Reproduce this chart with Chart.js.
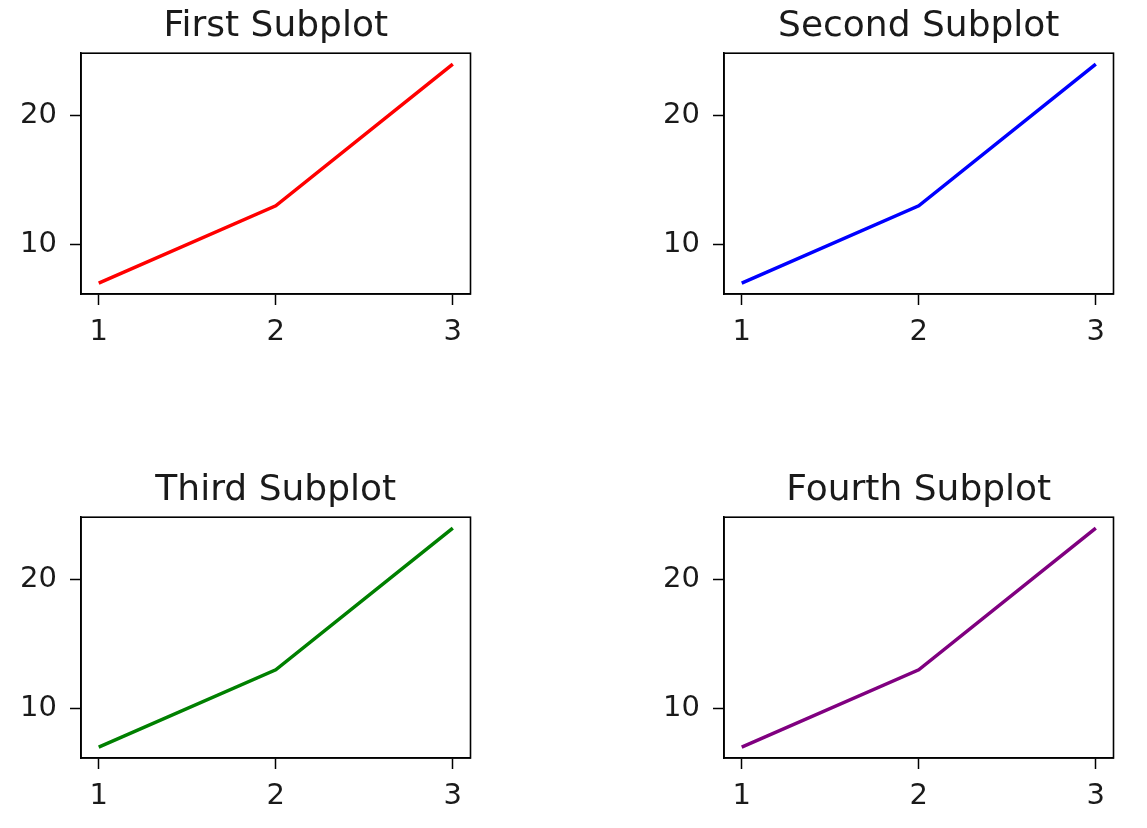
<!DOCTYPE html>
<html>
<head>
<meta charset="utf-8">
<script src="https://cdn.jsdelivr.net/npm/chart.js@4.4.0/dist/chart.umd.min.js"></script>
<style>
  html, body { margin: 0; padding: 0; background: #ffffff; }
  body { width: 1147px; height: 828px; position: relative; overflow: hidden; }
  .cell { position: absolute; width: 552px; height: 350px; }
  .cell canvas { display: block; }
</style>
</head>
<body>
<div class="cell" id="c1" style="left:0px; top:0px;"><canvas id="p1"></canvas></div>
<div class="cell" id="c2" style="left:643px; top:0px;"><canvas id="p2"></canvas></div>
<div class="cell" id="c3" style="left:0px; top:464px;"><canvas id="p3"></canvas></div>
<div class="cell" id="c4" style="left:643px; top:464px;"><canvas id="p4"></canvas></div>
<script>
// ---- data ----
const xValues = [1, 2, 3];
const yValues = [7, 13, 24];
const titles = ["First Subplot", "Second Subplot", "Third Subplot", "Fourth Subplot"];
const lineColors = ["#ff0000", "#0000ff", "#008000", "#800080"];
const xTickValues = [1, 2, 3];
const yTickValues = [10, 20];

const FONT = "'DejaVu Sans', sans-serif";
const TICK_SIZE = 29;
const TITLE_SIZE = 36;

const frame = {
  id: 'frame',
  afterDraw(chart) {
    const a = chart.chartArea, ctx = chart.ctx;
    ctx.save();
    ctx.strokeStyle = '#000';
    ctx.lineWidth = 1.6;
    ctx.strokeRect(a.left, a.top, a.right - a.left, a.bottom - a.top);
    ctx.restore();
  }
};

const yMin = 7 - 0.05 * (24 - 7), yMax = 24 + 0.05 * (24 - 7);
const xMin = 1 - 0.05 * (3 - 1), xMax = 3 + 0.05 * (3 - 1);

function makeChart(id, idx) {
  const points = xValues.map((x, i) => ({ x: x, y: yValues[i] }));
  new Chart(document.getElementById(id), {
    type: 'line',
    data: {
      datasets: [{
        data: points,
        borderColor: lineColors[idx],
        backgroundColor: lineColors[idx],
        borderWidth: 3.5,
        pointRadius: 0,
        tension: 0,
        fill: false
      }]
    },
    plugins: [frame],
    options: {
      responsive: true,
      maintainAspectRatio: false,
      animation: false,
      events: [],
      layout: { padding: { left: 0, right: 81.5, top: 0, bottom: 0 } },
      plugins: {
        legend: { display: false },
        tooltip: { enabled: false },
        title: {
          display: true,
          fullSize: false,
          text: titles[idx],
          color: '#1a1a1a',
          font: { family: FONT, size: TITLE_SIZE, weight: 'normal', lineHeight: 1.2 },
          padding: { top: 5, bottom: 5 }
        }
      },
      scales: {
        x: {
          type: 'linear',
          min: xMin, max: xMax,
          afterFit(s) { s.height = 56; },
          afterBuildTicks(s) { s.ticks = xTickValues.map(v => ({ value: v })); },
          grid: { display: true, drawOnChartArea: false, drawTicks: true, tickLength: 11, color: '#000', tickWidth: 1.5 },
          border: { display: true, color: '#000', width: 1.6 },
          ticks: { color: '#1a1a1a', font: { family: FONT, size: TICK_SIZE }, padding: 10, maxRotation: 0,
                   callback: v => String(v) }
        },
        y: {
          type: 'linear',
          min: yMin, max: yMax,
          afterFit(s) { s.width = 81; },
          afterBuildTicks(s) { s.ticks = yTickValues.map(v => ({ value: v })); },
          grid: { display: true, drawOnChartArea: false, drawTicks: true, tickLength: 11, color: '#000', tickWidth: 1.5 },
          border: { display: true, color: '#000', width: 1.6 },
          ticks: { color: '#1a1a1a', font: { family: FONT, size: TICK_SIZE }, padding: 13,
                   callback: v => String(v) }
        }
      }
    }
  });
}

['p1', 'p2', 'p3', 'p4'].forEach((id, i) => makeChart(id, i));
</script>
</body>
</html>
